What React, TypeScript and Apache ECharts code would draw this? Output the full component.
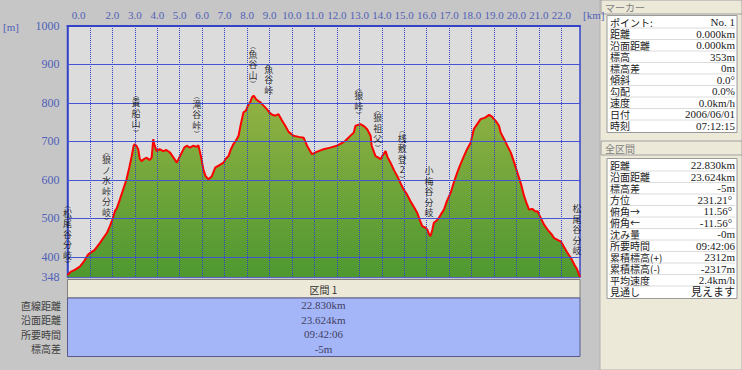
import React, { useEffect, useRef } from 'react';
import * as echarts from 'echarts';

// ---- Profile data (distance along track in km, elevation in m) ----
const distanceKm = [
  0.0, 0.15, 0.3, 0.55, 0.75, 0.9, 1.0, 1.2, 1.44, 1.6, 1.75, 1.89, 2.0, 2.11, 2.2, 2.33, 2.45, 2.63, 2.75, 2.86,
  2.95, 3.0, 3.08, 3.15, 3.22, 3.3, 3.42, 3.53, 3.65, 3.75, 3.82, 3.88, 3.97, 4.1, 4.27, 4.4, 4.57, 4.7, 4.87, 4.95,
  5.09, 5.2, 5.31, 5.45, 5.61, 5.75, 5.83, 5.95, 6.05, 6.15, 6.28, 6.43, 6.58, 6.75, 6.95, 7.05, 7.17, 7.28, 7.39, 7.5,
  7.62, 7.72, 7.84, 7.95, 8.05, 8.14, 8.22, 8.29, 8.4, 8.5, 8.59, 8.7, 8.88, 9.0, 9.1, 9.25, 9.4, 9.55, 9.7, 9.85,
  10.07, 10.3, 10.52, 10.67, 10.89, 11.1, 11.41, 11.7, 12.0, 12.2, 12.38, 12.55, 12.75, 12.83, 13.05, 13.2, 13.35, 13.5, 13.55, 13.72,
  13.85, 13.94, 14.05, 14.17, 14.25, 14.39, 14.55, 14.69, 14.85, 14.98, 15.1, 15.28, 15.45, 15.58, 15.7, 15.8, 15.95, 16.03, 16.1, 16.17,
  16.25, 16.32, 16.45, 16.55, 16.65, 16.77, 16.9, 17.07, 17.2, 17.36, 17.5, 17.66, 17.8, 17.96, 18.1, 18.25, 18.4, 18.6, 18.78, 18.9,
  19.0, 19.12, 19.22, 19.3, 19.45, 19.6, 19.75, 19.9, 20.04, 20.2, 20.34, 20.45, 20.56, 20.7, 20.85, 20.94, 21.05, 21.23, 21.4, 21.55,
  21.68, 21.85, 21.98, 22.1, 22.28, 22.45, 22.58, 22.7, 22.83,
];
const elevationM = [
  353, 362, 366, 375, 390, 405, 410, 418, 436, 450, 462, 480, 497, 519, 527, 549, 570, 602, 632, 662,
  690, 693, 688, 680, 655, 649, 655, 658, 652, 658, 706, 690, 675, 680, 675, 678, 671, 660, 645, 655,
  671, 684, 689, 684, 689, 686, 690, 660, 628, 610, 602, 610, 632, 638, 645, 655, 662, 680, 693, 702,
  715, 745, 776, 780, 795, 802, 815, 819, 810, 805, 802, 795, 784, 775, 770, 767, 771, 755, 741, 725,
  715, 712, 710, 689, 667, 673, 680, 684, 689, 695, 702, 712, 723, 741, 745, 740, 732, 715, 689, 662,
  658, 654, 665, 675, 660, 645, 625, 610, 590, 575, 565, 545, 528, 515, 495, 480, 476, 471, 460, 454,
  470, 489, 495, 502, 512, 523, 545, 567, 592, 619, 640, 662, 680, 697, 732, 745, 758, 762, 769, 765,
  758, 750, 741, 723, 706, 688, 671, 645, 619, 590, 558, 540, 523, 525, 518, 519, 505, 484, 470, 460,
  449, 444, 440, 428, 410, 395, 380, 368, 348,
];

// ---- Axis ticks ----
const kmTickLabelsHidden = [1];
const kmGridLines = [1, 2, 3, 4, 5, 6, 7, 8, 9, 10, 11, 12, 13, 14, 15, 16, 17, 18, 19, 20, 21, 22];
const elevTickLabels = [348, 400, 500, 600, 700, 800, 900, 1000];
const elevGridLines = [400, 500, 600, 700, 800, 900];

// ---- Place name annotations ----
const placeNames = [
  '(松尾谷分岐)', '(狼ノ水峠分岐)', '(貴船山)', '(滝谷峠)', '(魚谷山)', '魚谷峠',
  '(狼峠)', '(狼祖父)', '(桟敷登2)', '小梅谷分岐', '松尾谷分岐',
];
const placeKm = [0.0, 1.74, 3.05, 5.76, 8.26, 8.96, 12.97, 13.82, 14.91, 16.1, 22.7];
const placeLabelElev = [459, 585, 774, 769, 899, 860, 805, 735, 667, 570, 471];

// ---- Side panel tables ----
const markerRows = [
  ['ポイント:', 'No. 1'], ['距離', '0.000km'], ['沿面距離', '0.000km'], ['標高', '353m'], ['標高差', '0m'],
  ['傾斜', '0.0°'], ['勾配', '0.0%'], ['速度', '0.0km/h'], ['日付', '2006/06/01'], ['時刻', '07:12:15'],
];
const totalRows = [
  ['距離', '22.830km'], ['沿面距離', '23.624km'], ['標高差', '-5m'], ['方位', '231.21° '], ['俯角→', '11.56° '],
  ['俯角←', '-11.56° '], ['沈み量', '-0m'], ['所要時間', '09:42:06'], ['累積標高(+)', '2312m'],
  ['累積標高(-)', '-2317m'], ['平均速度', '2.4km/h'], ['見通し', '見えます'],
];
const sectionTitle = '区間 1';
const sectionRows = [
  ['直線距離', '22.830km'], ['沿面距離', '23.624km'], ['所要時間', '09:42:06'], ['標高差', '-5m'],
];

const CJK = "'Noto Sans CJK JP', sans-serif";
const SERIF = "'Liberation Serif', 'Noto Sans CJK JP', serif";
const AXIS_BLUE = '#5060b8';
const GRID_BLUE = '#3444c8';

function verticalText(s: string): string {
  return s
    .split('')
    .map((c) => (c === '(' ? '{p|︵}' : c === ')' ? '{q|︶}' : '{c|' + c + '}'))
    .join('\n');
}

function tableGraphics(rows: string[][], x: number, y: number, w: number, rowH: number) {
  const els: any[] = [];
  els.push({
    type: 'rect',
    shape: { x, y, width: w, height: rows.length * rowH + 2 },
    style: { fill: '#ffffff', stroke: '#9a9a9a', lineWidth: 1 },
    silent: true,
  });
  rows.forEach((r, i) => {
    const cy = y + 1 + rowH * i + rowH / 2;
    if (i > 0) {
      els.push({
        type: 'line',
        shape: { x1: x + 2, y1: y + 1 + rowH * i, x2: x + w - 2, y2: y + 1 + rowH * i },
        style: { stroke: '#dcdcdc', lineWidth: 1 },
        silent: true,
      });
    }
    els.push({
      type: 'text', x: x + 3, y: cy, silent: true,
      style: { text: r[0], fill: '#202020', fontSize: 10, fontFamily: CJK, align: 'left', verticalAlign: 'middle' },
    });
    els.push({
      type: 'text', x: x + w - 2, y: cy, silent: true,
      style: { text: r[1], fill: '#202020', fontSize: 11, fontFamily: SERIF, align: 'right', verticalAlign: 'middle' },
    });
  });
  return els;
}

function headerGraphics(title: string, y: number) {
  return [
    {
      type: 'rect', silent: true,
      shape: { x: 601, y, width: 141, height: 14 },
      style: { fill: '#ece9d8', stroke: '#a0a0a0', lineWidth: 1 },
    },
    {
      type: 'text', x: 605, y: y + 7, silent: true,
      style: { text: title, fill: '#808080', fontSize: 10, fontFamily: CJK, align: 'left', verticalAlign: 'middle' },
    },
  ];
}

export default function App() {
  const ref = useRef<HTMLDivElement>(null);

  useEffect(() => {
    if (!ref.current) return;
    const chart = echarts.init(ref.current, undefined, { renderer: 'svg' });

    const profile = distanceKm.map((d, i) => [d, elevationM[i]]);
    const places = placeKm.map((k, i) => ({ value: [k, placeLabelElev[i]], name: placeNames[i] }));

    const graphic: any[] = [];
    graphic.push({
      type: 'rect', silent: true, z: -10,
      shape: { x: 600, y: 0, width: 142, height: 370 },
      style: { fill: '#ece9d8', stroke: '#b0b0b0', lineWidth: 1 },
    });
    graphic.push(...headerGraphics('マーカー', 0));
    graphic.push(...tableGraphics(markerRows, 607, 15.5, 130, 11.5));
    graphic.push(...headerGraphics('全区間', 141));
    graphic.push(...tableGraphics(totalRows, 607, 158.5, 130, 11.5));

    graphic.push({
      type: 'text', x: 3, y: 27, silent: true,
      style: { text: '[m]', fill: AXIS_BLUE, fontSize: 11, fontFamily: SERIF, align: 'left', verticalAlign: 'middle' },
    });
    graphic.push({
      type: 'text', x: 583, y: 15, silent: true,
      style: { text: '[km]', fill: AXIS_BLUE, fontSize: 11, fontFamily: SERIF, align: 'left', verticalAlign: 'middle' },
    });

    graphic.push({
      type: 'rect', silent: true,
      shape: { x: 67.5, y: 279.5, width: 512.5, height: 18.5 },
      style: { fill: '#ece9d8', stroke: '#808080', lineWidth: 1 },
    });
    graphic.push({
      type: 'text', x: 323.5, y: 289, silent: true,
      style: { text: sectionTitle, fill: '#303030', fontSize: 10, fontFamily: CJK, align: 'center', verticalAlign: 'middle' },
    });
    graphic.push({
      type: 'rect', silent: true,
      shape: { x: 67.5, y: 298, width: 512.5, height: 58.5 },
      style: { fill: '#a4b6f8', stroke: '#5a5a8a', lineWidth: 1 },
    });
    sectionRows.forEach((r, i) => {
      const cy = 305 + i * 14.5;
      graphic.push({
        type: 'text', x: 61, y: cy, silent: true,
        style: { text: r[0], fill: '#404040', fontSize: 10, fontFamily: CJK, align: 'right', verticalAlign: 'middle' },
      });
      graphic.push({
        type: 'text', x: 323.5, y: cy, silent: true,
        style: { text: r[1], fill: '#404060', fontSize: 11, fontFamily: SERIF, align: 'center', verticalAlign: 'middle' },
      });
    });

    const option: any = {
      animation: false,
      backgroundColor: '#c6c6c6',
      grid: {
        left: 67.5, right: 162, top: 26, bottom: 93,
        show: true, backgroundColor: '#dcdcdc', borderColor: GRID_BLUE, borderWidth: 1.5,
      },
      xAxis: {
        type: 'value', position: 'top', min: 0, max: 22.83, interval: 1,
        axisLine: { show: true, lineStyle: { color: GRID_BLUE, width: 2 } },
        axisTick: { show: false },
        splitLine: { show: false },
        axisLabel: {
          color: AXIS_BLUE, fontSize: 11, fontFamily: SERIF, margin: 6,
          formatter: (v: number) => {
            if (Math.abs(v - Math.round(v)) > 1e-6) return '';
            if (kmTickLabelsHidden.indexOf(v) >= 0) return '';
            if (v === 0) return '{z|0.0}';
            return v.toFixed(1);
          },
          rich: { z: { padding: [0, 0, 0, 22] } },
        },
      },
      yAxis: {
        type: 'value', min: 348, max: 1000,
        axisLine: { show: true, lineStyle: { color: GRID_BLUE, width: 1.5 } },
        axisTick: { show: false },
        splitLine: { show: false },
        axisLabel: {
          customValues: elevTickLabels, color: AXIS_BLUE, fontSize: 12, fontFamily: SERIF, margin: 8,
          formatter: (v: number) => String(Math.round(v)),
        },
      },
      series: [
        {
          type: 'line',
          data: profile,
          showSymbol: false,
          lineStyle: { color: '#ff0000', width: 2 },
          areaStyle: {
            opacity: 1,
            color: new echarts.graphic.LinearGradient(0, 0, 0, 1, [
              { offset: 0, color: '#93b244' },
              { offset: 1, color: '#4e9830' },
            ]),
          },
          markLine: {
            silent: true,
            symbol: ['none', 'none'],
            label: { show: false },
            animation: false,
            data: [
              ...kmGridLines.map((v) => ({ xAxis: v, lineStyle: { type: 'dotted', color: GRID_BLUE, width: 1 } })),
              ...elevGridLines.map((v) => ({ yAxis: v, lineStyle: { type: 'solid', color: '#4454d4', width: 1 } })),
            ],
          },
        },
        {
          type: 'scatter',
          data: places,
          symbolSize: 0,
          z: 6,
          silent: true,
          label: {
            show: true,
            position: 'inside',
            formatter: (p: any) => verticalText(p.name),
            color: '#000000',
            fontFamily: CJK,
            rich: {
              c: { fontSize: 9, lineHeight: 10.5, color: '#000000', fontFamily: CJK },
              p: { fontSize: 6, lineHeight: 6.5, color: '#000000', fontFamily: CJK },
              q: { fontSize: 6, lineHeight: 6.5, color: '#000000', fontFamily: CJK },
            },
          },
        },
      ],
      graphic,
    };

    chart.setOption(option);
    return () => chart.dispose();
  }, []);

  return (
    <div
      ref={ref}
      style={{ position: 'fixed', left: 0, top: 0, width: 742, height: 370 }}
    />
  );
}
